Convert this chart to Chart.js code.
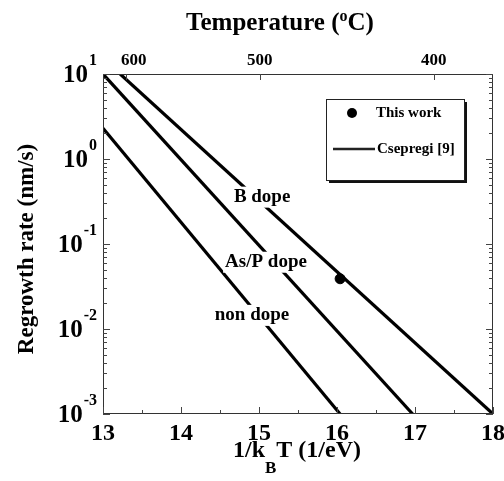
<!DOCTYPE html>
<html>
<head>
<meta charset="utf-8">
<script src="https://cdn.jsdelivr.net/npm/chart.js@4"></script>
<style>
  html, body { margin: 0; padding: 0; background: #fff; }
  #wrap { width: 504px; height: 481px; }
</style>
</head>
<body>
<div id="wrap"><canvas id="c" width="504" height="481"></canvas></div>
<script>
// Csepregi [9] regrowth-rate lines: endpoints in 1/kBT (1/eV) and rate (nm/s)
const seriesNames = ['B dope', 'As/P dope', 'non dope'];
const bDopeX   = [13.22, 18.0];
const bDopeY   = [10, 0.001];
const asPDopeX = [13.0, 16.97];
const asPDopeY = [10, 0.001];
const nonDopeX = [13.0, 16.04];
const nonDopeY = [2.3, 0.001];

// This work
const thisWorkX = [16.04];
const thisWorkY = [0.039];

// Axis ticks
const xTicks = [13, 14, 15, 16, 17, 18];
const yTickExps = [1, 0, -1, -2, -3];
const tempTicksC = [600, 500, 400];
const KB = 8.617e-5; // eV/K

const FONT = '"Liberation Serif", "Times New Roman", serif';
const toPts = (xs, ys) => xs.map((x, i) => ({ x: x, y: ys[i] }));
const invKT = c => 1 / (KB * (c + 273.15));

// Where each curve label sits (center x, baseline y) in data units
const curveLabelAt = [
  { x: 15.04, y: 0.315 },
  { x: 15.09, y: 0.054 },
  { x: 14.91, y: 0.0128 }
];

function font(size) { return 'bold ' + size + 'px ' + FONT; }

// Draw a run of text pieces (for super/subscripts) starting at x or aligned
function drawRich(ctx, parts, x, y, align) {
  let total = 0;
  parts.forEach(p => { ctx.font = font(p.size); p.w = ctx.measureText(p.t).width; total += p.w + (p.gap || 0); });
  let cx = align === 'center' ? x - total / 2 : align === 'right' ? x - total : x;
  ctx.textAlign = 'left';
  ctx.textBaseline = 'alphabetic';
  parts.forEach(p => {
    cx += (p.gap || 0);
    ctx.font = font(p.size);
    ctx.fillText(p.t, cx, y + (p.dy || 0));
    cx += p.w;
  });
}

const framePlugin = {
  id: 'frame',
  afterDatasetsDraw(chart) {
    const ctx = chart.ctx;
    const a = chart.chartArea;
    const xs = chart.scales.x, ys = chart.scales.y;
    ctx.save();

    // curve labels over white boxes, breaking the lines
    ctx.font = font(19);
    seriesNames.forEach((name, i) => {
      const px = xs.getPixelForValue(curveLabelAt[i].x);
      const py = ys.getPixelForValue(curveLabelAt[i].y);
      const m = ctx.measureText(name);
      const w = m.width;
      ctx.fillStyle = '#fff';
      ctx.fillRect(px - w / 2 - 2, py - m.actualBoundingBoxAscent - 2, w + 4,
                   m.actualBoundingBoxAscent + m.actualBoundingBoxDescent + 4);
      ctx.fillStyle = '#000';
      ctx.textAlign = 'center';
      ctx.textBaseline = 'alphabetic';
      ctx.fillText(name, px, py);
    });

    // frame
    ctx.strokeStyle = '#333';
    ctx.lineWidth = 1;
    ctx.strokeRect(a.left + 0.5, a.top + 0.5, a.right - a.left - 1, a.bottom - a.top - 1);

    ctx.strokeStyle = '#444';
    ctx.beginPath();
    // bottom ticks every 0.5, pointing inward
    for (let v = xTicks[0]; v <= xTicks[xTicks.length - 1] + 1e-9; v += 0.5) {
      const px = Math.round(xs.getPixelForValue(v)) + 0.5;
      const len = Math.abs(v - Math.round(v)) < 1e-9 ? 7 : 4;
      ctx.moveTo(px, a.bottom);
      ctx.lineTo(px, a.bottom - len);
    }
    // top temperature ticks
    tempTicksC.forEach(c => {
      const px = Math.round(xs.getPixelForValue(invKT(c))) + 0.5;
      ctx.moveTo(px, a.top);
      ctx.lineTo(px, a.top + 6);
    });
    // log ticks on left and right
    for (let e = yTickExps[yTickExps.length - 1]; e <= yTickExps[0]; e++) {
      for (let m = 1; m <= 9; m++) {
        if (e === yTickExps[0] && m > 1) break;
        const v = m * Math.pow(10, e);
        const py = Math.round(ys.getPixelForValue(v)) + 0.5;
        const len = m === 1 ? 7 : 4;
        ctx.moveTo(a.left, py); ctx.lineTo(a.left + len, py);
        ctx.moveTo(a.right, py); ctx.lineTo(a.right - len, py);
      }
    }
    ctx.stroke();

    ctx.fillStyle = '#000';
    // bottom tick labels
    ctx.font = font(24);
    ctx.textAlign = 'center';
    ctx.textBaseline = 'alphabetic';
    xTicks.forEach(v => ctx.fillText(String(v), xs.getPixelForValue(v), a.bottom + 26));

    // top tick labels (temperature, °C)
    ctx.font = font(17);
    tempTicksC.forEach((c, i) => {
      const px = xs.getPixelForValue(invKT(c)) + (i === 0 ? 8 : 0);
      ctx.fillText(String(c), px, a.top - 9);
    });

    // y tick labels 10^n
    yTickExps.forEach(e => {
      const py = ys.getPixelForValue(Math.pow(10, e));
      drawRich(ctx, [{ t: '10', size: 25, dy: 8 }, { t: String(e), size: 16, dy: -9, gap: 1 }], a.left - 6, py, 'right');
    });

    // axis titles
    drawRich(ctx, [{ t: 'Temperature (', size: 25 }, { t: 'o', size: 16, dy: -9 }, { t: 'C)', size: 25 }], 280, 30, 'center');
    drawRich(ctx, [{ t: '1/k', size: 24 }, { t: 'B', size: 17, dy: 16 }, { t: 'T (1/eV)', size: 24 }], 297, 457, 'center');
    ctx.save();
    ctx.translate(33, 249);
    ctx.rotate(-Math.PI / 2);
    ctx.font = font(23);
    ctx.textAlign = 'center';
    ctx.fillText('Regrowth rate (nm/s)', 0, 0);
    ctx.restore();

    // legend box with drop shadow
    const L = 326, T = 99, W = 138, H = 81;
    ctx.fillStyle = '#111';
    ctx.fillRect(L + 3, T + 3, W, H);
    ctx.fillStyle = '#fff';
    ctx.fillRect(L, T, W, H);
    ctx.strokeStyle = '#222';
    ctx.strokeRect(L + 0.5, T + 0.5, W, H);
    ctx.fillStyle = '#000';
    ctx.beginPath();
    ctx.arc(352, 113, 5, 0, Math.PI * 2);
    ctx.fill();
    ctx.lineWidth = 2.5;
    ctx.beginPath();
    ctx.moveTo(333, 149); ctx.lineTo(375, 149);
    ctx.stroke();
    ctx.font = font(15);
    ctx.textAlign = 'left';
    ctx.textBaseline = 'middle';
    ctx.fillText('This work', 376, 113);
    ctx.fillText('Csepregi [9]', 377, 149);

    ctx.restore();
  }
};

const lineStyle = { borderColor: '#000', borderWidth: 3.2, pointRadius: 0, showLine: true, fill: false };

new Chart(document.getElementById('c'), {
  type: 'scatter',
  data: {
    datasets: [
      Object.assign({ label: seriesNames[0], data: toPts(bDopeX, bDopeY) }, lineStyle),
      Object.assign({ label: seriesNames[1], data: toPts(asPDopeX, asPDopeY) }, lineStyle),
      Object.assign({ label: seriesNames[2], data: toPts(nonDopeX, nonDopeY) }, lineStyle),
      { label: 'This work', data: toPts(thisWorkX, thisWorkY), pointRadius: 5,
        backgroundColor: '#000', borderColor: '#000', showLine: false }
    ]
  },
  options: {
    responsive: false,
    animation: false,
    devicePixelRatio: 1,
    layout: { padding: { left: 103, right: 11, top: 74, bottom: 67 } },
    plugins: { legend: { display: false }, tooltip: { enabled: false } },
    scales: {
      x: { type: 'linear', min: 13, max: 18, display: false },
      y: { type: 'logarithmic', min: 0.001, max: 10, display: false }
    }
  },
  plugins: [framePlugin]
});
</script>
</body>
</html>
